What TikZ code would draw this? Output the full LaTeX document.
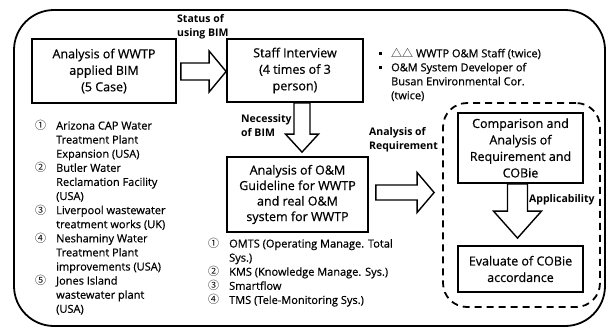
\documentclass[tikz,border=0pt]{standalone}
\usepackage{fontspec}
\setmainfont{Open Sans}[UprightFeatures={FakeBold=0.6}]
\newfontfamily\cjk{Noto Sans CJK KR}
\usetikzlibrary{calc}
\tikzset{
  frame/.style = {draw, line width=1.8pt},
  box/.style = {draw, line width=1.8pt, align=center, inner sep=0pt,
    font=\fontsize{12.5}{16.5}\selectfont},
  dashbox/.style = {draw, line width=1.8pt, dash pattern=on 7pt off 5pt,
    rounded corners=24pt, inner sep=0pt},
  hollow/.style = {draw, line width=1.4pt, line join=miter},
  tag/.style = {align=left, anchor=north west, inner sep=0pt,
    font=\fontsize{10.5}{14.5}\selectfont\bfseries},
  listtext/.style = {align=left, anchor=north west, inner sep=0pt,
    font=\fontsize{11}{14.1}\selectfont}
}
% hollow block arrow: start, tip, shaft half width, head half width, head length
\newcommand{\blockarrow}[5]{%
  \coordinate (hb) at ($(#2)!#5!(#1)$);
  \draw[hollow] ($(#1)!#3!90:(#2)$) -- ($(hb)!#3!90:(#2)$) -- ($(hb)!#4!90:(#2)$)
    -- (#2) -- ($(hb)!#4!-90:(#2)$) -- ($(hb)!#3!-90:(#2)$) -- ($(#1)!#3!-90:(#2)$) -- cycle;
}
\newcommand{\itm}[1]{\makebox[21pt][l]{\cjk #1}}
\newcommand{\cnt}{\hspace*{21pt}}
\newcommand{\sq}{\makebox[12pt][l]{\raisebox{2.5pt}{\rule{3pt}{3pt}}}}

\begin{document}
\begin{tikzpicture}[x=1pt,y=-1pt]
  \useasboundingbox (0,0) rectangle (608,330);
  % outer frame
  \draw[frame] (14,170) [rounded corners=40pt] -- (14,10) -- (605,10) -- (605,326) -- (14,326) -- cycle;
  % steps
  \node[box, minimum width=144pt, minimum height=64pt] (survey) at (104,71)
    {Analysis of WWTP\\applied BIM\\(5 Case)};
  \node[box, minimum width=136pt, minimum height=63pt] (interview) at (295,70.5)
    {Staff Interview\\(4 times of 3\\person)};
  \node[box, minimum width=141pt, minimum height=75pt,
    font=\fontsize{12.5}{15.5}\selectfont] (guideline) at (297.5,194.5)
    {Analysis of O\&M\\Guideline for WWTP\\and real O\&M\\system for WWTP};
  \node[dashbox, minimum width=157pt, minimum height=204pt] (group) at (521.5,205) {};
  \node[box, minimum width=125pt, minimum height=70pt] (compare) at (520.5,148)
    {Comparison and\\Analysis of\\Requirement and\\COBie};
  \node[box, minimum width=125pt, minimum height=46pt] (evaluate) at (520.5,269)
    {Evaluate of COBie\\accordance};
  % block arrows
  \coordinate (s1) at ($(survey.east)+(4,0.5)$);
  \coordinate (t1) at (interview.west |- s1);
  \blockarrow{s1}{t1}{8.5pt}{20.5pt}{17pt}
  \coordinate (s2) at ($(interview.south)+(7,0)$);
  \coordinate (t2) at ($(guideline.north)+(4.5,-4)$);
  \blockarrow{s2}{t2}{8pt}{16.5pt}{18pt}
  \coordinate (s3) at ($(guideline.east)+(7,-2)$);
  \coordinate (t3) at ($(group.west |- s3)+(-8,0)$);
  \blockarrow{s3}{t3}{7.5pt}{20pt}{17pt}
  \coordinate (s4) at ($(compare.south)+(-3,0)$);
  \coordinate (t4) at ($(evaluate.north)+(-3,-7)$);
  \blockarrow{s4}{t4}{10pt}{24pt}{27pt}
  % arrow labels
  \node[tag] (status) at (177,14) {Status of\\using BIM};
  \node[tag] (necessity) at (241,114) {Necessity\\of BIM};
  \node[tag] (require) at (369,127) {Analysis of\\Requirement};
  \node[tag] (applic) at (529,194) {Applicability};
  % lists
  \node[listtext] (cases) at (35,120)
    {\itm{①}Arizona CAP Water\\\cnt Treatment Plant\\\cnt Expansion (USA)\\
     \itm{②}Butler Water\\\cnt Reclamation Facility\\\cnt (USA)\\
     \itm{③}Liverpool wastewater\\\cnt treatment works (UK)\\
     \itm{④}Neshaminy Water\\\cnt Treatment Plant\\\cnt improvements (USA)\\
     \itm{⑤}Jones Island\\\cnt wastewater plant\\\cnt (USA)};
  \node[listtext] (systems) at (208,238)
    {\itm{①}OMTS (Operating Manage. Total\\\cnt Sys.)\\
     \itm{②}KMS (Knowledge Manage. Sys.)\\
     \itm{③}Smartflow\\
     \itm{④}TMS (Tele-Monitoring Sys.)};
  \node[listtext, font=\fontsize{11}{14}\selectfont] (staff) at (379,48)
    {\sq {\cjk △△} WWTP O\&M Staff (twice)\\
     \sq O\&M System Developer of\\\hspace*{12pt}Busan Environmental Cor.\\\hspace*{12pt}(twice)};
\end{tikzpicture}
\end{document}
